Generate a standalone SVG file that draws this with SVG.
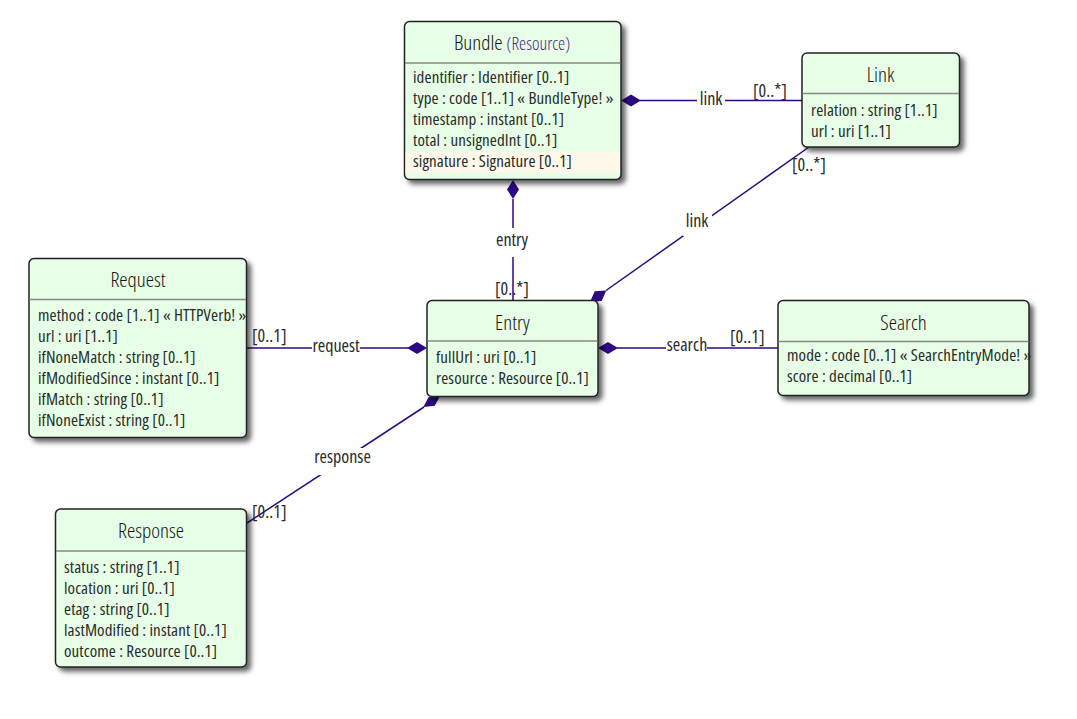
<svg xmlns="http://www.w3.org/2000/svg" width="1077" height="719" viewBox="0 0 1077 719">
<defs>
<filter id="sh" x="-10%" y="-10%" width="130%" height="130%">
<feDropShadow dx="4" dy="4" stdDeviation="2.5" flood-color="#000" flood-opacity="0.6"/>
</filter>
</defs>
<style>
text { font-family: "Open Sans", "DejaVu Sans Condensed", sans-serif; font-stretch: 75%; fill: #2a2a2a; font-weight: 400; }
.box { fill: #E6FFE6; stroke: #222; stroke-width: 1.5; filter: url(#sh); }
.div { stroke: #888; stroke-width: 1.5; }
.t { font-size: 21px; text-anchor: middle; fill: #111; font-weight: 300; }
.res { font-size: 18px; fill: #4e2384; }
.f { font-size: 17px; letter-spacing: 0.1px; }
.lbl { font-size: 18px; text-anchor: middle; }
.card { font-size: 18px; }
.conn { stroke: #2c0a82; stroke-width: 1.5; fill: none; }
.dia { fill: #2c0a82; stroke: none; }
.bg { fill: #fff; }
</style>
<rect width="1077" height="719" fill="#fff"/>
<g id="connectors">
  <!-- Bundle - Link -->
  <line class="conn" x1="640" y1="100.5" x2="802" y2="100.5"/>
  <polygon class="dia" points="621,100.5 631,94.5 641,100.5 631,106.5"/>
  <rect class="bg" x="697" y="90" width="28" height="22"/>
  <text class="lbl" x="711" y="105">link</text>
  <text class="card" x="753" y="97">[0..*]</text>
  <!-- Bundle - Entry -->
  <line class="conn" x1="513" y1="199" x2="513" y2="301"/>
  <polygon class="dia" points="513,180 507,189.5 513,199 519,189.5"/>
  <rect class="bg" x="493" y="228" width="40" height="29"/>
  <text class="lbl" x="512" y="246">entry</text>
  <text class="card" x="495" y="295">[0..*]</text>
  <!-- Entry - Link -->
  <line class="conn" x1="606" y1="290.5" x2="809" y2="147"/>
  <polygon class="dia" points="590,302 594.7,291.3 606.3,290.4 601.7,301.1"/>
  <rect class="bg" x="683" y="208" width="29" height="28"/>
  <text class="lbl" x="697" y="227">link</text>
  <text class="card" x="792" y="171">[0..*]</text>
  <!-- Entry - Request -->
  <line class="conn" x1="246" y1="348" x2="408" y2="348"/>
  <polygon class="dia" points="427,348 417,342 407,348 417,354"/>
  <rect class="bg" x="312" y="338" width="48" height="15"/>
  <text class="lbl" x="336" y="352">request</text>
  <text class="card" x="252" y="342">[0..1]</text>
  <!-- Entry - Search -->
  <line class="conn" x1="617" y1="348" x2="778" y2="348"/>
  <polygon class="dia" points="598,348 608,342 618,348 608,354"/>
  <rect class="bg" x="666" y="338" width="41" height="15"/>
  <text class="lbl" x="687" y="351">search</text>
  <text class="card" x="730" y="343">[0..1]</text>
  <!-- Entry - Response -->
  <line class="conn" x1="424" y1="407" x2="247" y2="523"/>
  <polygon class="dia" points="440,396 428.5,397.3 423.3,407 434.8,405.7"/>
  <rect class="bg" x="311" y="448" width="63" height="27"/>
  <text class="lbl" x="342.5" y="463">response</text>
  <text class="card" x="252" y="518">[0..1]</text>
</g>
<g id="Bundle">
  <rect class="box" x="404.5" y="21.5" width="216.5" height="158" rx="5"/>
  <rect x="405.5" y="152" width="214.5" height="21" fill="#fdf8ea"/>
  <line class="div" x1="405" y1="63" x2="620" y2="63"/>
  <text class="t" x="512" y="50">Bundle <tspan class="res">(Resource)</tspan></text>
  <text class="f" x="413" y="83">identifier : Identifier [0..1]</text>
  <text class="f" x="413" y="104">type : code [1..1] « BundleType! »</text>
  <text class="f" x="413" y="125">timestamp : instant [0..1]</text>
  <text class="f" x="413" y="146">total : unsignedInt [0..1]</text>
  <text class="f" x="413" y="167">signature : Signature [0..1]</text>
</g>
<g id="Link">
  <rect class="box" x="802" y="53" width="157.5" height="94" rx="5"/>
  <line class="div" x1="802.5" y1="93.5" x2="959" y2="93.5"/>
  <text class="t" x="880.5" y="82">Link</text>
  <text class="f" x="811" y="116">relation : string [1..1]</text>
  <text class="f" x="811" y="137">url : uri [1..1]</text>
</g>
<g id="Request">
  <rect class="box" x="29" y="258.5" width="217.5" height="179" rx="5"/>
  <line class="div" x1="29.5" y1="299.5" x2="246" y2="299.5"/>
  <text class="t" x="138" y="287">Request</text>
  <text class="f" x="38" y="321">method : code [1..1] « HTTPVerb! »</text>
  <text class="f" x="38" y="342">url : uri [1..1]</text>
  <text class="f" x="38" y="363">ifNoneMatch : string [0..1]</text>
  <text class="f" x="38" y="384">ifModifiedSince : instant [0..1]</text>
  <text class="f" x="38" y="405">ifMatch : string [0..1]</text>
  <text class="f" x="38" y="426">ifNoneExist : string [0..1]</text>
</g>
<g id="Entry">
  <rect class="box" x="427" y="300.5" width="171" height="96" rx="5"/>
  <line class="div" x1="427.5" y1="341" x2="597.5" y2="341"/>
  <text class="t" x="512.5" y="330">Entry</text>
  <text class="f" x="436" y="363">fullUrl : uri [0..1]</text>
  <text class="f" x="436" y="384">resource : Resource [0..1]</text>
</g>
<g id="Search">
  <rect class="box" x="778" y="300.5" width="251" height="95" rx="5"/>
  <line class="div" x1="778.5" y1="341.5" x2="1028.5" y2="341.5"/>
  <text class="t" x="903.5" y="330">Search</text>
  <text class="f" x="787" y="361">mode : code [0..1] « SearchEntryMode! »</text>
  <text class="f" x="787" y="382">score : decimal [0..1]</text>
</g>
<g id="Response">
  <rect class="box" x="55.5" y="509" width="191" height="158" rx="5"/>
  <line class="div" x1="56" y1="551" x2="246" y2="551"/>
  <text class="t" x="151" y="538">Response</text>
  <text class="f" x="64" y="573">status : string [1..1]</text>
  <text class="f" x="64" y="594">location : uri [0..1]</text>
  <text class="f" x="64" y="615">etag : string [0..1]</text>
  <text class="f" x="64" y="636">lastModified : instant [0..1]</text>
  <text class="f" x="64" y="657">outcome : Resource [0..1]</text>
</g>
</svg>
